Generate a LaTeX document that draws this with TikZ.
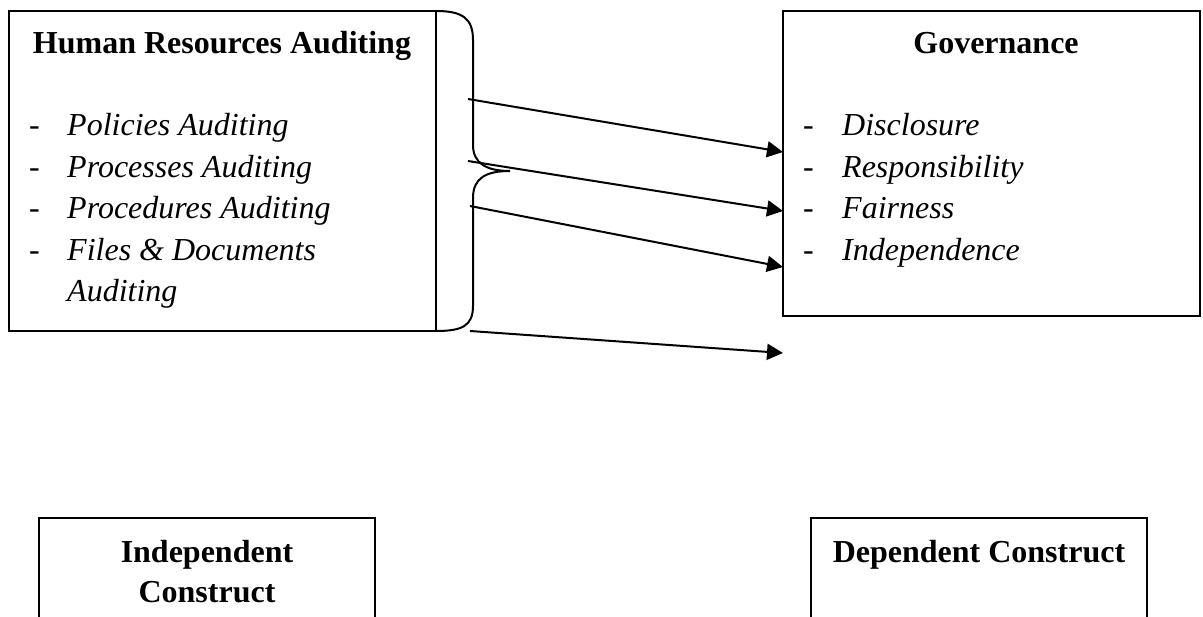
\documentclass[tikz,border=0pt]{standalone}
\usepackage{fontspec}
\setmainfont{Liberation Serif}
\usetikzlibrary{arrows.meta}
\begin{document}
\begin{tikzpicture}[x=1pt,y=-1pt,
  framebox/.style={draw, line width=2pt, rectangle, inner sep=0pt, outer sep=0pt, anchor=north west},
  ttl/.style={anchor=base, inner sep=0pt, font=\fontsize{32}{41.5}\selectfont\bfseries},
  itm/.style={anchor=base west, inner sep=0pt, font=\fontsize{32}{41.5}\selectfont\itshape},
  dsh/.style={anchor=base west, inner sep=0pt, font=\fontsize{32}{41.5}\selectfont},
  arr/.style={line width=2pt, -{Triangle[length=16pt,width=16pt]}},
  bracel/.style={line width=2pt}]
\useasboundingbox (0,0) rectangle (1203,617);

% boxes
\node[framebox, minimum width=427pt, minimum height=320pt] (hra) at (9,11) {};
\node[framebox, minimum width=417pt, minimum height=305pt] (gov) at (783,11) {};
\node[framebox, minimum width=336pt, minimum height=130pt] (ind) at (39,518) {};
\node[framebox, minimum width=336pt, minimum height=130pt] (dep) at (811,518) {};

% brace
\draw[bracel] (hra.north east) .. controls (462,11) and (473,18) .. (473,40) -- (473,145)
  .. controls (473,163) and (486,171) .. (510,171) coordinate (tip);
\draw[bracel] (tip) .. controls (486,171) and (473,178) .. (473,198) -- (473,306)
  .. controls (473,326) and (462,331) .. (hra.south east);

% left texts
\node[ttl] (t1) at (222,54) {Human Resources Auditing};
\node[dsh] (d1) at (29,136) {-};
\node[itm] (i1) at (67,136) {Policies Auditing};
\node[dsh] (d2) at (29,177.5) {-};
\node[itm] (i2) at (67,177.5) {Processes Auditing};
\node[dsh] (d3) at (29,219) {-};
\node[itm] (i3) at (67,219) {Procedures Auditing};
\node[dsh] (d4) at (29,260.5) {-};
\node[itm] (i4) at (67,260.5) {Files \& Documents};
\node[itm] (i5) at (67,302) {Auditing};

% right texts
\node[ttl] (t2) at (996,54) {Governance};
\node[dsh] (e1) at (803,136) {-};
\node[itm] (g1) at (842,136) {Disclosure};
\node[dsh] (e2) at (803,177.5) {-};
\node[itm] (g2) at (842,177.5) {Responsibility};
\node[dsh] (e3) at (803,219) {-};
\node[itm] (g3) at (842,219) {Fairness};
\node[dsh] (e4) at (803,260.5) {-};
\node[itm] (g4) at (842,260.5) {Independence};

% bottom texts
\node[ttl] (b1) at (207,562) {Independent};
\node[ttl] (b2) at (207,602) {Construct};
\node[ttl] (b3) at (979,562) {Dependent Construct};

% arrows
\coordinate (s1) at (468,99);
\coordinate (s2) at (468,161);
\coordinate (s3) at (470,206);
\coordinate (s4) at (470,331);
\coordinate (f1) at (783,152);
\coordinate (f2) at (783,211);
\coordinate (f3) at (783,267);
\coordinate (f4) at (783,353);
\draw[arr] (s1) -- (f1);
\draw[arr] (s2) -- (f2);
\draw[arr] (s3) -- (f3);
\draw[arr] (s4) -- (f4);
\end{tikzpicture}
\end{document}
